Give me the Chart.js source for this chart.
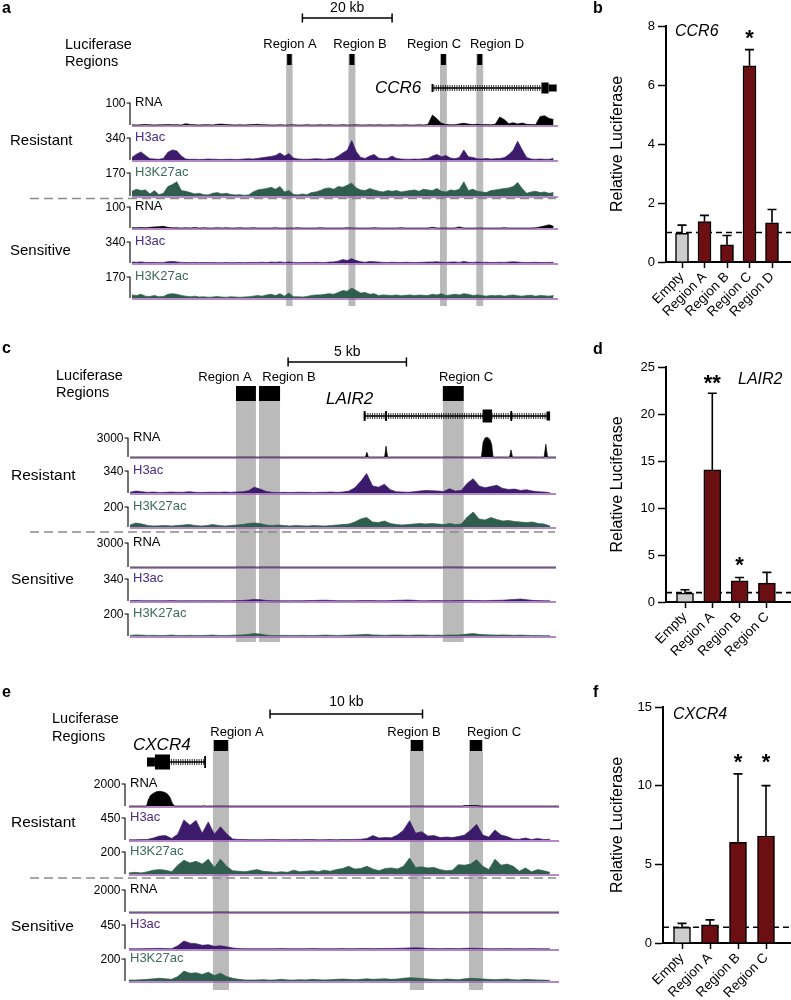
<!DOCTYPE html>
<html>
<head>
<meta charset="utf-8">
<title>Luciferase regions</title>
<script src="https://cdn.jsdelivr.net/npm/chart.js@4.4.1/dist/chart.umd.min.js"></script>
<style>
  html, body { margin: 0; padding: 0; background: #fff; }
  body { position: relative; width: 791px; height: 1000px; overflow: hidden; }
  canvas { position: absolute; }
</style>
</head>
<body>
<canvas id="trackA" style="left:0px;top:0px" width="590" height="306"></canvas>
<canvas id="trackC" style="left:0px;top:320px" width="590" height="322"></canvas>
<canvas id="trackE" style="left:0px;top:660px" width="590" height="330"></canvas>
<canvas id="barB" style="left:590px;top:0px" width="201" height="318"></canvas>
<canvas id="barD" style="left:590px;top:330px" width="201" height="329"></canvas>
<canvas id="barF" style="left:590px;top:660px" width="201" height="340"></canvas>
<script>
const FONT = '"Liberation Sans", Arial, Helvetica, sans-serif';

// ---------- luciferase bar charts ----------
const ccr6Labels = ['Empty', 'Region A', 'Region B', 'Region C', 'Region D'];
const ccr6Values = [0.97, 1.37, 0.58, 6.65, 1.33];
const ccr6Errors = [0.28, 0.21, 0.32, 0.55, 0.45];
const ccr6Stars = ['', '', '', '*', ''];
const ccr6StarAt = [0, 0, 0, 7.75, 0];

const lair2Labels = ['Empty', 'Region A', 'Region B', 'Region C'];
const lair2Values = [0.95, 14.05, 2.25, 2.0];
const lair2Errors = [0.35, 8.15, 0.35, 1.15];
const lair2Stars = ['', '**', '*', ''];
const lair2StarAt = [0, 23.8, 4.5, 0];

const cxcr4Labels = ['Empty', 'Region A', 'Region B', 'Region C'];
const cxcr4Values = [1.0, 1.15, 6.4, 6.8];
const cxcr4Errors = [0.25, 0.32, 4.35, 3.2];
const cxcr4Stars = ['', '', '*', '*'];
const cxcr4StarAt = [0, 0, 11.8, 11.8];

// ---------- panel a: CCR6 locus, 1 kb bins ----------
const aRegionNames = ['Region A', 'Region B', 'Region C', 'Region D'];
const aRegions = [[34.6, 35.6], [48.5, 49.6], [68.9, 70.0], [77.0, 78.1]];
const aScaleBar = [38, 58];
const aGeneIntron = [67, 91.3];
const aGeneExons = [[66.8, 67.2], [91.3, 92.9], [92.9, 94.7]];

const aRnaRes = [1,0,1,2,1,0,1,1,2,1,1,0, 6,2,1,0,1,1,0, 3,4,2,1,0,1,0,1,2,3,1,
  1,0,0,1,0,0,1,0,0,1,0,0,1,0,1,0,0,1,0,0,1,0,0,1,0,1,0,0,1,0,0,1,0,0,1,0,2,
  45,28,8,2,1,1,5,8,4,2,3,1,2,1,3,36,25,6,10,4,9,3,2,1,38,42,30,25];
const aH3acRes = [40,90,125,70, 20,15,10,25, 120,155,140,60,
  15,10,12,8,10,15,12,10,8,10,12,8,10,15,20,15,
  25,35,45,55,70,110,60,100,30, 15,12,10,15,20,15,12,20,25,
  60,110,150,300,130,40,25, 60,85,30, 20,25, 60, 25,15,12,10,15,12,20,25,
  60,85,50,70, 30,20,40, 155,50,40, 20,15,25,15,20,25,35, 80,150,290,160,40, 15,10,15,12,10,25];
const aK27Res = [35,50,40,45, 15,40,10,20, 70,85,105,40,35,25, 15,20,10,8,20,25,15,20,12,
  8,10,5,8,30, 45,50,55,65,50,70,30,40, 12,8,15,10,25,30, 40,55,60,50,70,65,80,95,
  60,45,40,55,45,35,30,40, 35,40,30,35,40,45,35,50,45,40, 55,35,30,45,40,50,105,40,
  50,35,30,25,40,45,50,55,60,70,100,55, 20,30,35,25,30,20,25];
const aRnaSen = [1,1,2,1,3,5,6,8,3,1, 1,0,1,0,2,0,1,0,0,1,0,1,0,0,1,0,0,1,0,0,
  0,0,1,0,0,0,0,1,0,0,0,0,1,0,0,0,0,0,1,0,0,0,0,0,1,0,0,0,0,0,1,0,0,0,0,0,0,
  3,0,0,0,0,0,5,0,0,0,0,0,0,0,0,0,1,0,0,0,0,0,0,1, 5,10,15,8];
const aH3acSen = [15,12,18,10, 8,10,6,8, 20,25,18,10, 8,6,10,5,8,6,8,5,6,8,5,6,8,5,10,8,
  10,12,8,15,12,18,10,15,8, 6,8,10,8,12,10,8,15,18, 30,55,40,70,40,20,12, 25,20,15,10,8,12,
  10,8,12,10,8,10,12,15, 15,20,12,10,15,18,10, 25,12,10,15,10,12,8,10,12,10, 15,20,15,10,8,10,12,8,10,8,12];
const aK27Sen = [25,20,30,15,12, 20,10,12, 30,35,30,20,15,10,15, 8,10,6,8,12,8,6,10,8,6,8,
  10,15,20,15,25,30,20,35,15,40,10, 10,8,12,20,25,25,30,35,30, 45,60,55,80,60,40,45,30,35,
  20,25,22,20,25,18,22,25,20,24,22,20, 30,25,35,20,25,30,25,35,30,20,25,20,
  15,20,18,22,15,20,25,18,15,20,22,15,20,18,15,20];

// ---------- panel c: LAIR2 locus, 0.25 kb bins ----------
const cRegionNames = ['Region A', 'Region B', 'Region C'];
const cRegions = [[4.48, 5.32], [5.45, 6.34], [13.22, 14.1]];
const cScaleBar = [6.68, 11.68];
const cGeneIntron = [9.89, 17.7];
const cGeneExons = [[9.87, 9.95], [10.78, 10.86], [14.9, 15.3], [16.07, 16.15], [17.6, 17.75]];

const cRnaResPos = [0, 9.95, 10.01, 10.07, 10.76, 10.82, 10.88, 14.85, 14.92, 15.0, 15.1, 15.2, 15.28, 15.34,
  16.04, 16.1, 16.16, 17.5, 17.57, 17.64, 18];
const cRnaResVal = [0, 0, 740, 0, 0, 1700, 0, 0, 2300, 3000, 3100, 2800, 2000, 0, 0, 1100, 0, 0, 2000, 0, 0];
const cH3acRes = [10,30,20,10,15,8,10,15,10,12, 20,10,8,10,12,10,15,10,15,20,
  35,90,60,25,10,8,10,8,10,12, 10,8,10,12,15,10,15,30,80,180,
  300,110,90,135,50,20,15,12,20,30, 40,35,30,25,65,30,40,150,220,110,
  80,100,120,70,55,60,40,50,30,20, 15,5];
const cK27Res = [20,40,30,15,10,12,15,10,15,20, 25,15,10,15,25,15,10,15,20,25,
  35,40,35,20,15,20,15,10,15,12, 10,15,12,10,15,20,25,30,50,80,
  95,50,45,60,35,25,20,25,30,35, 30,35,30,25,35,25,30,100,150,80,
  70,95,75,60,65,55,50,45,50,35, 30,10];
const cRnaSenPos = [0, 18];
const cRnaSenVal = [0, 0];
const cH3acSen = [5,8,5,3,5,3,4,6,4,3, 5,4,3,5,4,3,5,4,6,8, 15,25,20,8,4,3,4,3,5,4,
  6,8,10,12,8,5,4,3,5,6, 8,6,5,4,6,10,12,15,10,5, 4,6,8,5,4,6,8,10,8,6,
  5,8,10,12,18,25,30,20,10,6, 4,2];
const cK27Sen = [5,10,8,5,6,4,5,8,5,4, 6,5,4,6,8,5,4,6,8,10, 15,22,18,8,5,4,6,5,4,6,
  5,4,6,8,6,5,6,8,10,12, 15,10,8,6,8,10,8,6,8,10, 8,6,8,6,10,8,12,18,22,15,
  12,10,8,10,8,6,8,6,5,4, 3,2];

// ---------- panel e: CXCR4 locus, 0.4 kb bins ----------
const eRegionNames = ['Region A', 'Region B', 'Region C'];
const eRegions = [[5.57, 6.49], [18.49, 19.28], [22.36, 23.15]];
const eScaleBar = [9.25, 19.25];
const eGeneIntron = [2.69, 4.98];
const eGeneExons = [[1.18, 1.7], [1.7, 2.69], [4.93, 4.99]];

const eRnaResPos = [0, 1.15, 1.25, 1.4, 1.6, 1.8, 2.0, 2.2, 2.4, 2.55, 2.7, 2.85, 3.0, 4.85, 4.9, 4.95,
  21.9, 21.95, 22.9, 22.95, 28.2];
const eRnaResVal = [0, 0, 500, 950, 1150, 1300, 1330, 1300, 1200, 1050, 750, 200, 0, 0, 60, 0, 0, 40, 40, 0, 0];
const eH3acRes = [5,5,8,10,40,80,90,30,120,410, 300,400,140,370,120,270,130,20,10,8,
  5,6,5,8,10,6,5,8,6,10, 8,5,6,8,5,10,8,12,15,30,
  90,40,50,45,100,200,395,140,170,80, 90,50,60,50,70,100,200,320,100,60,
  205,100,70,20,15,40,10,30,10,15];
const eK27Res = [10,15,10,20,35,40,35,20,80,125, 100,115,90,135,60,135,70,30,25,20,
  30,40,25,20,15,20,15,35,20,25, 30,20,35,25,40,50,70,45,50,70,
  45,30,50,55,45,70,145,60,65,55, 60,40,30,35,85,80,90,130,70,40,
  135,80,90,70,25,55,20,40,30,15];
const eRnaSenPos = [0, 28.2];
const eRnaSenVal = [0, 0];
const eH3acSen = [5,3,5,8,10,12,8,6,60,150, 110,100,70,80,50,60,40,20,8,5,
  4,5,6,4,5,8,5,4,6,5, 8,6,5,4,6,8,5,6,8,10, 6,8,10,8,12,15,20,22,18,10,
  8,6,10,8,6,12,15,12,8,6, 5,6,8,5,4,6,8,5,4,3];
const eK27Sen = [10,8,12,15,20,25,20,15,40,90, 70,75,60,80,50,70,40,25,15,10,
  8,10,12,8,10,15,10,8,12,10, 15,12,10,12,15,18,15,12,15,20,
  15,18,20,15,18,25,30,28,22,18, 15,12,18,15,12,20,25,22,18,15,
  12,15,18,12,10,15,12,10,8,6];

// ---------- colours ----------
const RNA_COLOR = '#000000';
const H3AC_COLOR = '#3d1b6c';
const K27_COLOR = '#2f5e4e';
const H3AC_TEXT = '#4b2a84';
const K27_TEXT = '#3b6b5b';
const EMPTY_COLOR = '#cdcdcd';
const BAR_COLOR = '#6c0f12';

Chart.defaults.font.family = FONT;
Chart.defaults.color = '#000';

function drawText(ctx, s, x, y, size, opt) {
  opt = opt || {};
  ctx.save();
  ctx.font = (opt.style ? opt.style + ' ' : '') + size + 'px ' + FONT;
  ctx.fillStyle = opt.color || '#000';
  ctx.textAlign = opt.align || 'left';
  ctx.textBaseline = opt.baseline || 'middle';
  if (opt.rotate) {
    ctx.translate(x, y);
    ctx.rotate(opt.rotate);
    ctx.fillText(s, 0, 0);
  } else {
    ctx.fillText(s, x, y);
  }
  ctx.restore();
}

function makeTracks(rnaR, h3R, k27R, rnaS, h3S, k27S, maxes) {
  const names = ['RNA', 'H3ac', 'H3K27ac'];
  const colors = [RNA_COLOR, H3AC_COLOR, K27_COLOR];
  const textColors = ['#000', H3AC_TEXT, K27_TEXT];
  return [rnaR, h3R, k27R, rnaS, h3S, k27S].map((d, k) => ({
    name: names[k % 3], max: maxes[k % 3], color: colors[k % 3], labelColor: textColors[k % 3], data: d
  }));
}

// genome browser panel: one chart, one hidden y scale per track
function genomePlugin(L) {
  const Y = v => v - L.top;
  return {
    id: 'genome_' + L.letter,
    beforeDatasetsDraw(chart) {
      const ctx = chart.ctx, xs = chart.scales.x, area = chart.chartArea;
      ctx.save();
      ctx.fillStyle = '#bababa';
      L.regions.forEach(r => {
        const x0 = xs.getPixelForValue(r[0]) - L.bandPad;
        const x1 = xs.getPixelForValue(r[1]) + L.bandPad;
        ctx.fillRect(x0, Y(L.boxTop), x1 - x0, area.bottom - Y(L.boxTop));
      });
      L.tracks.forEach((t, k) => {
        const y = chart.scales['y' + k].getPixelForValue(0);
        ctx.strokeStyle = '#9d62b3';
        ctx.lineWidth = 1.5;
        ctx.beginPath();
        ctx.moveTo(area.left, y + 0.9);
        ctx.lineTo(area.right, y + 0.9);
        ctx.stroke();
      });
      ctx.restore();
    },
    afterDatasetsDraw(chart) {
      const ctx = chart.ctx, xs = chart.scales.x;
      const px = v => xs.getPixelForValue(v);
      ctx.save();
      ctx.fillStyle = '#000';
      ctx.strokeStyle = '#000';

      // luciferase region boxes and names
      L.regions.forEach(r => ctx.fillRect(px(r[0]), Y(L.boxTop), px(r[1]) - px(r[0]), L.boxH));
      L.regionNames.forEach((n, i) => drawText(ctx, n, L.regionLabelX[i], Y(L.regionLabelY), 13, { align: 'center' }));

      // scale bar
      const s0 = px(L.scaleBar[0]), s1 = px(L.scaleBar[1]), sy = Y(L.scaleY);
      ctx.lineWidth = 1.5;
      ctx.beginPath();
      ctx.moveTo(s0, sy); ctx.lineTo(s1, sy);
      ctx.moveTo(s0, sy - 4.5); ctx.lineTo(s0, sy + 4.5);
      ctx.moveTo(s1, sy - 4.5); ctx.lineTo(s1, sy + 4.5);
      ctx.stroke();
      drawText(ctx, L.scaleText, (s0 + s1) / 2, Y(L.scaleTextY), 14, { align: 'center' });

      // gene model
      const g = L.gene, gy = Y(g.y);
      const g0 = px(g.intron[0]), g1 = px(g.intron[1]);
      ctx.lineWidth = 1.5;
      ctx.beginPath(); ctx.moveTo(g0, gy); ctx.lineTo(g1, gy); ctx.stroke();
      ctx.lineWidth = 0.8;
      ctx.beginPath();
      for (let x = g0 + 1.5; x < g1 - 1; x += 2.3) { ctx.moveTo(x, gy - 3); ctx.lineTo(x, gy + 3); }
      ctx.stroke();
      g.exons.forEach((e, i) => {
        const x0 = px(e[0]);
        const w = Math.max(px(e[1]) - x0, 1.8);
        ctx.fillRect(x0, gy - g.heights[i] / 2, w, g.heights[i]);
      });
      drawText(ctx, g.name, g.labelX, Y(g.labelY), 17, { style: 'italic' });

      // track scale brackets and names
      L.tracks.forEach((t, k) => {
        const ys = chart.scales['y' + k];
        const yb = ys.getPixelForValue(0), yt = ys.getPixelForValue(t.max);
        ctx.lineWidth = 1.1;
        ctx.beginPath();
        ctx.moveTo(L.bracketX - 3.5, yt); ctx.lineTo(L.bracketX, yt); ctx.lineTo(L.bracketX, yb);
        ctx.stroke();
        drawText(ctx, String(t.max), L.bracketX - 4.5, yt + 1, 12, { align: 'right' });
        drawText(ctx, t.name, L.bracketX + 5, yt - 1, 13, { color: t.labelColor });
      });

      // separator between resistant and sensitive
      ctx.strokeStyle = '#8a8a8a';
      ctx.lineWidth = 1.6;
      ctx.setLineDash([9, 5]);
      ctx.beginPath();
      ctx.moveTo(L.dashX[0], Y(L.dashY)); ctx.lineTo(L.dashX[1], Y(L.dashY));
      ctx.stroke();
      ctx.setLineDash([]);

      drawText(ctx, L.letter, 2, Y(L.letterY), 16, { style: 'bold' });
      drawText(ctx, 'Luciferase', L.luc[0], Y(L.luc[1]), 14.5);
      drawText(ctx, 'Regions', L.luc[0], Y(L.luc[2]), 14.5);
      drawText(ctx, 'Resistant', L.side[0], Y(L.side[1]), L.sideSize);
      drawText(ctx, 'Sensitive', L.side[0], Y(L.side[2]), L.sideSize);
      ctx.restore();
    }
  };
}

function genomeChart(id, L) {
  const H = L.height;
  const scales = { x: { type: 'linear', display: false, min: 0, max: L.span } };
  L.tracks.forEach((t, k) => {
    const b = L.bases[k] - L.top, tp = L.tops[k] - L.top;
    const u = t.max / (b - tp);
    const min = -(H - b) * u;
    scales['y' + k] = { type: 'linear', display: false, bounds: 'data', min: min, max: min + H * u };
  });
  const datasets = L.tracks.map((t, k) => {
    const pts = t.data.pos
      ? t.data.pos.map((p, i) => ({ x: p, y: t.data.val[i] }))
      : t.data.map((v, i) => ({ x: i * L.bin, y: v }));
    return {
      data: pts, yAxisID: 'y' + k,
      borderColor: t.color, backgroundColor: t.color,
      borderWidth: 0.7, fill: 'origin', pointRadius: 0, tension: 0
    };
  });
  return new Chart(document.getElementById(id), {
    type: 'line',
    data: { datasets: datasets },
    options: {
      responsive: false, animation: false, events: [],
      layout: { padding: { left: L.x0, right: L.width - L.x1, top: 0, bottom: 0 } },
      plugins: { legend: { display: false }, tooltip: { enabled: false } },
      scales: scales
    },
    plugins: [genomePlugin(L)]
  });
}

genomeChart('trackA', {
  letter: 'a', top: 0, height: 306, width: 590, x0: 132, x1: 558, span: 95, bin: 1,
  tracks: makeTracks(aRnaRes, aH3acRes, aK27Res, aRnaSen, aH3acSen, aK27Sen, [100, 340, 170]),
  tops: [103, 138, 173, 207, 242, 277], bases: [125, 160, 196, 228, 263, 298],
  bracketX: 130,
  regions: aRegions, regionNames: aRegionNames, regionLabelX: [290, 360, 434, 497], regionLabelY: 44,
  boxTop: 54, boxH: 11, bandPad: 1,
  scaleBar: aScaleBar, scaleText: '20 kb', scaleY: 18, scaleTextY: 8,
  gene: { name: 'CCR6', y: 88, intron: aGeneIntron, exons: aGeneExons, heights: [8, 11, 7], labelX: 375, labelY: 88 },
  luc: [65, 45, 62], side: [10, 141, 251], sideSize: 15, letterY: 9,
  dashY: 198.5, dashX: [30, 556]
});

genomeChart('trackC', {
  letter: 'c', top: 320, height: 322, width: 590, x0: 130, x1: 556, span: 18, bin: 0.25,
  tracks: makeTracks({ pos: cRnaResPos, val: cRnaResVal }, cH3acRes, cK27Res,
    { pos: cRnaSenPos, val: cRnaSenVal }, cH3acSen, cK27Sen, [3000, 340, 200]),
  tops: [438, 471, 507, 543, 579, 614], bases: [457, 493, 527, 567, 601, 636],
  bracketX: 128,
  regions: cRegions, regionNames: cRegionNames, regionLabelX: [225, 289, 466], regionLabelY: 377,
  boxTop: 386, boxH: 15, bandPad: 0,
  scaleBar: cScaleBar, scaleText: '5 kb', scaleY: 362, scaleTextY: 352,
  gene: { name: 'LAIR2', y: 416, intron: cGeneIntron, exons: cGeneExons, heights: [10, 10, 13, 10, 9], labelX: 326, labelY: 399 },
  luc: [56, 376, 393], side: [11, 476, 580], sideSize: 15.5, letterY: 349,
  dashY: 532, dashX: [30, 555]
});

genomeChart('trackE', {
  letter: 'e', top: 660, height: 330, width: 590, x0: 129, x1: 559, span: 28.2, bin: 0.4,
  tracks: makeTracks({ pos: eRnaResPos, val: eRnaResVal }, eH3acRes, eK27Res,
    { pos: eRnaSenPos, val: eRnaSenVal }, eH3acSen, eK27Sen, [2000, 450, 200]),
  tops: [784, 818, 852, 890, 925, 959], bases: [806, 840, 874, 912, 949, 981],
  bracketX: 125,
  regions: eRegions, regionNames: eRegionNames, regionLabelX: [237, 414, 494], regionLabelY: 732,
  boxTop: 740, boxH: 11, bandPad: 1,
  scaleBar: eScaleBar, scaleText: '10 kb', scaleY: 714, scaleTextY: 702,
  gene: { name: 'CXCR4', y: 762, intron: eGeneIntron, exons: eGeneExons, heights: [9, 15, 12], labelX: 133, labelY: 745 },
  luc: [52, 719, 737], side: [11, 823, 927], sideSize: 15.5, letterY: 693,
  dashY: 878, dashX: [30, 556]
});

// luciferase bar chart with error bars, dashed baseline at 1
function barPlugin(B) {
  return {
    id: 'bars_' + B.letter,
    beforeDatasetsDraw(chart) {
      const ctx = chart.ctx, ys = chart.scales.y, area = chart.chartArea;
      const y1 = ys.getPixelForValue(1);
      ctx.save();
      ctx.strokeStyle = '#000';
      ctx.lineWidth = 1.6;
      ctx.setLineDash([6, 4]);
      ctx.beginPath(); ctx.moveTo(area.left, y1); ctx.lineTo(chart.width, y1); ctx.stroke();
      ctx.restore();
    },
    afterDatasetsDraw(chart) {
      const ctx = chart.ctx, ys = chart.scales.y, area = chart.chartArea;
      const meta = chart.getDatasetMeta(0);
      ctx.save();
      ctx.strokeStyle = '#000';
      ctx.lineWidth = 1.6;
      B.values.forEach((v, i) => {
        const x = meta.data[i].x;
        const yv = ys.getPixelForValue(v), yt = ys.getPixelForValue(v + B.errors[i]);
        ctx.beginPath();
        ctx.moveTo(x, yv); ctx.lineTo(x, yt);
        ctx.moveTo(x - 4.5, yt); ctx.lineTo(x + 4.5, yt);
        ctx.stroke();
        if (B.stars[i]) {
          drawText(ctx, B.stars[i], x, ys.getPixelForValue(B.starAt[i]) + 12, 22, { style: 'bold', align: 'center', baseline: 'alphabetic' });
        }
      });
      drawText(ctx, 'Relative Luciferase', B.titleX, (area.top + area.bottom) / 2, 16, { align: 'center', rotate: -Math.PI / 2 });
      drawText(ctx, B.gene, B.geneX, B.geneY, 16, { style: 'italic' });
      drawText(ctx, B.letter, 3, B.letterY, 16, { style: 'bold' });
      ctx.restore();
    }
  };
}

function barChart(id, B) {
  const n = B.labels.length;
  const xmin = -(B.firstX - B.axisX) / B.step;
  const xmax = (n - 1) + (B.width - 1 - (B.firstX + (n - 1) * B.step)) / B.step;
  return new Chart(document.getElementById(id), {
    type: 'bar',
    data: {
      datasets: [{
        data: B.values.map((v, i) => ({ x: i, y: v })),
        backgroundColor: B.values.map((v, i) => (i === 0 ? EMPTY_COLOR : BAR_COLOR)),
        borderColor: '#000', borderWidth: 1.5, barThickness: B.barW
      }]
    },
    options: {
      responsive: false, animation: false, events: [],
      layout: { padding: { top: B.topY, right: 1, left: 0, bottom: 0 } },
      plugins: { legend: { display: false }, tooltip: { enabled: false } },
      scales: {
        x: {
          type: 'linear', min: xmin, max: xmax, offset: false, bounds: 'data',
          grid: { offset: false, drawOnChartArea: false, tickLength: 6, tickColor: '#000', tickWidth: 1.5 },
          border: { color: '#000', width: 2 },
          ticks: { autoSkip: false, minRotation: 45, maxRotation: 45, padding: 1,
            font: { size: 13.5 }, color: '#000', callback: v => B.labels[v] },
          afterBuildTicks: s => { s.ticks = B.labels.map((_, i) => ({ value: i })); },
          afterFit: s => { s.height = B.height - B.zeroY; }
        },
        y: {
          min: 0, max: B.yMax,
          ticks: { stepSize: B.yStep, font: { size: 13 }, color: '#000', padding: 3 },
          grid: { drawOnChartArea: false, tickLength: 8, tickColor: '#000', tickWidth: 1.5 },
          border: { color: '#000', width: 2 },
          afterFit: s => { s.width = B.axisX; }
        }
      }
    },
    plugins: [barPlugin(B)]
  });
}

barChart('barB', {
  letter: 'b', labels: ccr6Labels, values: ccr6Values, errors: ccr6Errors, stars: ccr6Stars, starAt: ccr6StarAt,
  gene: 'CCR6', geneX: 85, geneY: 32, letterY: 9, titleX: 28,
  width: 201, height: 318, axisX: 76, zeroY: 262, topY: 26, yMax: 8, yStep: 2,
  firstX: 92, step: 22.5, barW: 13
});

barChart('barD', {
  letter: 'd', labels: lair2Labels, values: lair2Values, errors: lair2Errors, stars: lair2Stars, starAt: lair2StarAt,
  gene: 'LAIR2', geneX: 148, geneY: 50, letterY: 20, titleX: 28,
  width: 201, height: 329, axisX: 76, zeroY: 272, topY: 37, yMax: 25, yStep: 5,
  firstX: 95, step: 27.3, barW: 17
});

barChart('barF', {
  letter: 'f', labels: cxcr4Labels, values: cxcr4Values, errors: cxcr4Errors, stars: cxcr4Stars, starAt: cxcr4StarAt,
  gene: 'CXCR4', geneX: 83, geneY: 55, letterY: 33, titleX: 28,
  width: 201, height: 340, axisX: 73, zeroY: 283, topY: 47, yMax: 15, yStep: 5,
  firstX: 92, step: 28, barW: 17
});
</script>
</body>
</html>
